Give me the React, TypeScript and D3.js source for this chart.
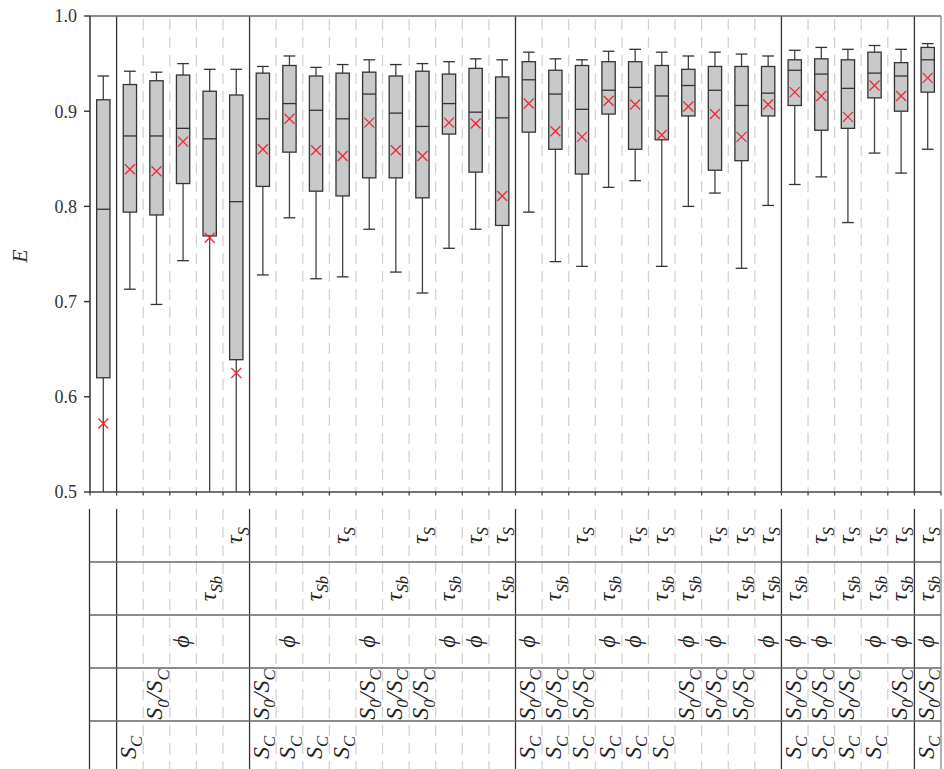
import React from "react";
import * as d3 from "d3";

// ---- data (32 parameter combinations) ----
const whiskerHigh = [0.937,0.942,0.941,0.950,0.944,0.944,0.947,0.958,0.946,0.949,0.954,0.949,0.950,0.952,0.955,0.954,0.962,0.955,0.954,0.963,0.965,0.962,0.958,0.962,0.960,0.958,0.964,0.967,0.965,0.969,0.965,0.971];
const q3 = [0.912,0.928,0.932,0.938,0.921,0.917,0.940,0.948,0.937,0.940,0.941,0.937,0.942,0.939,0.945,0.936,0.952,0.943,0.948,0.952,0.952,0.948,0.944,0.947,0.947,0.947,0.954,0.955,0.954,0.962,0.951,0.967];
const median = [0.797,0.874,0.874,0.882,0.871,0.805,0.892,0.908,0.901,0.892,0.918,0.898,0.884,0.908,0.899,0.893,0.933,0.918,0.902,0.922,0.925,0.916,0.927,0.922,0.906,0.919,0.943,0.939,0.924,0.940,0.937,0.954];
const q1 = [0.620,0.794,0.791,0.824,0.769,0.639,0.821,0.857,0.816,0.811,0.830,0.830,0.809,0.876,0.836,0.780,0.878,0.860,0.834,0.897,0.860,0.870,0.895,0.838,0.848,0.895,0.906,0.880,0.882,0.914,0.900,0.920];
const whiskerLow = [0.45,0.713,0.697,0.743,0.45,0.45,0.728,0.788,0.724,0.726,0.776,0.731,0.709,0.756,0.776,0.45,0.794,0.742,0.737,0.820,0.827,0.737,0.800,0.814,0.735,0.801,0.823,0.831,0.783,0.856,0.835,0.860];
const meanValues = [0.572,0.839,0.837,0.868,0.767,0.625,0.860,0.892,0.859,0.853,0.888,0.859,0.853,0.888,0.887,0.811,0.908,0.879,0.873,0.911,0.907,0.875,0.905,0.897,0.873,0.907,0.920,0.916,0.894,0.927,0.916,0.935];

const yTicks = [0.5, 0.6, 0.7, 0.8, 0.9, 1.0];
const groupBoundaries = [1, 6, 16, 26, 31];

// table rows (top to bottom) and the slots where each parameter is active
const rowKeys = ["tauS", "tauSb", "phi", "s0sc", "sc"];
const tauSSlots = [5,9,12,14,15,18,20,21,23,24,25,27,28,29,30,31];
const tauSbSlots = [4,8,11,13,15,17,19,21,22,24,25,26,28,29,30,31];
const phiSlots = [3,7,10,13,14,16,19,20,22,23,25,26,27,29,30,31];
const s0scSlots = [2,6,10,11,12,16,17,18,22,23,24,26,27,28,30,31];
const scSlots = [1,6,7,8,9,16,17,18,19,20,21,26,27,28,29,31];

type Part = { t: string; sub?: boolean };
const rowLabels: Record<string, Part[]> = {
  tauS: [{ t: "τ" }, { t: "S", sub: true }],
  tauSb: [{ t: "τ" }, { t: "Sb", sub: true }],
  phi: [{ t: "ϕ" }],
  s0sc: [{ t: "S" }, { t: "0", sub: true }, { t: "/S" }, { t: "C", sub: true }],
  sc: [{ t: "S" }, { t: "C", sub: true }],
};
const rowSlots: Record<string, number[]> = {
  tauS: tauSSlots, tauSb: tauSbSlots, phi: phiSlots, s0sc: s0scSlots, sc: scSlots,
};

const W = 944, H = 769;
const nSlots = whiskerHigh.length;
const plotLeft = 90, plotRight = 941, plotTop = 16, plotBottom = 492;
const tableTop = 509, tableBottom = 774;

const SERIF = "'Liberation Serif', 'Times New Roman', serif";

function Label({ parts, x, y, size }: { parts: Part[]; x: number; y: number; size: number }) {
  let shift = 0;
  const subSize = size * 0.7;
  return (
    <text transform={`translate(${x},${y}) rotate(-90)`} textAnchor="middle"
      fontFamily={SERIF} fontStyle="italic" fontSize={size} fill="#222">
      {parts.map((p, i) => {
        const target = p.sub ? size * 0.26 : 0;
        const dy = target - shift;
        shift = target;
        return (
          <tspan key={i} dy={dy} fontSize={p.sub ? subSize : size}>{p.t}</tspan>
        );
      })}
    </text>
  );
}

export default function App() {
  const x = d3.scaleLinear().domain([0, nSlots]).range([plotLeft, plotRight]);
  const y = d3.scaleLinear().domain([0.5, 1.0]).range([plotBottom, plotTop]);
  const rowScale = d3.scaleBand<string>().domain(rowKeys).range([tableTop, tableBottom]);
  const slots = d3.range(nSlots);
  const boxW = (x(1) - x(0)) * 0.5;
  const capW = (x(1) - x(0)) * 0.44;
  const boundaries = d3.range(1, nSlots);

  return (
    <svg width={W} height={H} style={{ position: "absolute", left: 0, top: 0 }}>
      <defs>
        <clipPath id="plotClip">
          <rect x={plotLeft} y={plotTop} width={plotRight - plotLeft} height={plotBottom - plotTop} />
        </clipPath>
      </defs>
      <rect width={W} height={H} fill="#fff" />

      {/* dashed separators in plot and table */}
      {boundaries.filter((b) => !groupBoundaries.includes(b)).map((b) => (
        <g key={"d" + b}>
          <line x1={x(b)} x2={x(b)} y1={plotTop + 3} y2={plotBottom} stroke="#cfcfcf" strokeWidth={1.2} strokeDasharray="11 7" />
          <line x1={x(b)} x2={x(b)} y1={tableTop} y2={tableBottom} stroke="#cfcfcf" strokeWidth={1.2} strokeDasharray="11 7" />
        </g>
      ))}

      {/* solid group separators */}
      {groupBoundaries.map((b) => (
        <g key={"s" + b}>
          <line x1={x(b)} x2={x(b)} y1={plotTop} y2={plotBottom} stroke="#333" strokeWidth={1.3} />
          <line x1={x(b)} x2={x(b)} y1={tableTop} y2={tableBottom} stroke="#333" strokeWidth={1.3} />
        </g>
      ))}

      {/* boxes */}
      <g clipPath="url(#plotClip)">
        {slots.map((i) => {
          const cx = x(i + 0.5);
          return (
            <g key={"b" + i}>
              <line x1={cx} x2={cx} y1={y(whiskerHigh[i])} y2={y(q3[i])} stroke="#444" strokeWidth={1.3} />
              <line x1={cx} x2={cx} y1={y(q1[i])} y2={y(whiskerLow[i])} stroke="#444" strokeWidth={1.3} />
              <line x1={cx - capW / 2} x2={cx + capW / 2} y1={y(whiskerHigh[i])} y2={y(whiskerHigh[i])} stroke="#333" strokeWidth={1.3} />
              <line x1={cx - capW / 2} x2={cx + capW / 2} y1={y(whiskerLow[i])} y2={y(whiskerLow[i])} stroke="#333" strokeWidth={1.3} />
              <rect x={cx - boxW / 2} y={y(q3[i])} width={boxW} height={y(q1[i]) - y(q3[i])}
                fill="#c8c9cb" stroke="#333" strokeWidth={1.3} />
              <line x1={cx - boxW / 2} x2={cx + boxW / 2} y1={y(median[i])} y2={y(median[i])} stroke="#333" strokeWidth={1.3} />
              <path d={`M${cx - 5},${y(meanValues[i]) - 5}L${cx + 5},${y(meanValues[i]) + 5}M${cx - 5},${y(meanValues[i]) + 5}L${cx + 5},${y(meanValues[i]) - 5}`}
                stroke="#ee2a35" strokeWidth={1.3} fill="none" />
            </g>
          );
        })}
      </g>

      {/* frame */}
      <line x1={plotLeft} x2={plotRight} y1={plotTop} y2={plotTop} stroke="#666" strokeWidth={1.6} />
      <line x1={plotRight} x2={plotRight} y1={plotTop} y2={plotBottom} stroke="#888" strokeWidth={1.3} />
      <line x1={plotLeft} x2={plotLeft} y1={plotTop} y2={plotBottom} stroke="#333" strokeWidth={1.5} />
      <line x1={plotLeft - 1} x2={plotRight} y1={plotBottom} y2={plotBottom} stroke="#444" strokeWidth={1.5} />
      {d3.range(0, nSlots + 1).map((b) => (
        <line key={"bt" + b} x1={x(b)} x2={x(b)} y1={plotBottom} y2={plotBottom + 3.5} stroke="#444" strokeWidth={1.3} />
      ))}

      {/* y axis */}
      {yTicks.map((t) => (
        <g key={"yt" + t}>
          <line x1={plotLeft - 6} x2={plotLeft} y1={y(t)} y2={y(t)} stroke="#333" strokeWidth={1.4} />
          <text x={plotLeft - 13} y={y(t)} dy="0.35em" textAnchor="end" fontFamily={SERIF} fontSize={18} fill="#333">
            {d3.format(".1f")(t)}
          </text>
        </g>
      ))}
      <text transform={`translate(27,${(plotTop + plotBottom) / 2 + 2}) rotate(-90)`} textAnchor="middle"
        fontFamily={SERIF} fontStyle="italic" fontSize={22} fill="#333">E</text>

      {/* table */}
      <line x1={plotLeft - 0.5} x2={plotLeft - 0.5} y1={tableTop} y2={tableBottom} stroke="#333" strokeWidth={1.3} />
      <line x1={plotRight} x2={plotRight} y1={tableTop} y2={tableBottom} stroke="#888" strokeWidth={1.3} />
      {rowKeys.slice(1).map((k) => (
        <line key={"h" + k} x1={plotLeft - 0.5} x2={plotRight} y1={rowScale(k)!} y2={rowScale(k)!} stroke="#666" strokeWidth={1.3} />
      ))}
      {rowKeys.map((k) =>
        rowSlots[k].map((s) => (
          <Label key={k + s} parts={rowLabels[k]} x={x(s + 0.5) + 6}
            y={rowScale(k)! + rowScale.bandwidth() / 2} size={24} />
        ))
      )}
    </svg>
  );
}
